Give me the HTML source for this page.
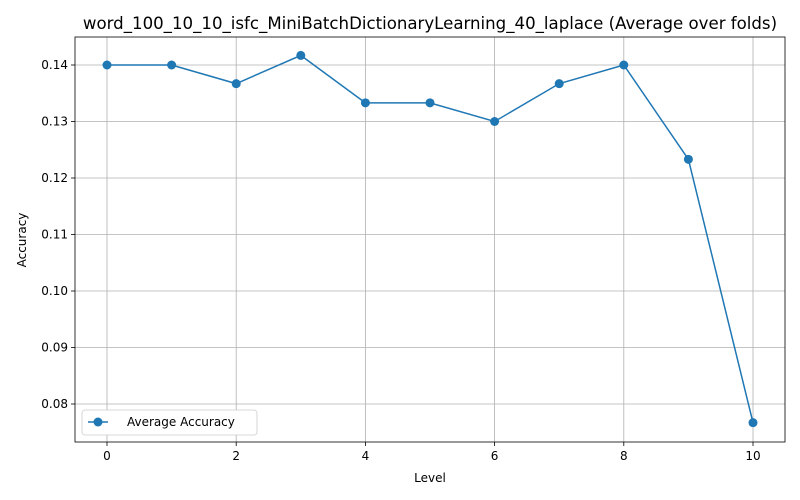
<!DOCTYPE html>
<html><head><meta charset="utf-8"><style>
html,body{margin:0;padding:0;background:#fff;}
svg{display:block;font-family:"DejaVu Sans","Liberation Sans",sans-serif;}
</style></head><body>
<svg id="chart" width="800" height="500"></svg>
<script>
const levels=[0,1,2,3,4,5,6,7,8,9,10];
const accuracy=[0.14,0.14,0.1367,0.1417,0.1333,0.1333,0.13,0.1367,0.14,0.1233,0.0767];
const xTicks=[0,2,4,6,8,10];
const yTicks=[0.08,0.09,0.10,0.11,0.12,0.13,0.14];
const yTickLabels=["0.08","0.09","0.10","0.11","0.12","0.13","0.14"];

const L=75,R=785,T=37,B=442;
const x=v=>107+(v-0)*(753-107)/10;
const y=v=>65+(0.14-v)*(404-65)/0.06;
const svg=document.getElementById('chart');
const NS='http://www.w3.org/2000/svg';
function mk(tag,attrs,parent){const e=document.createElementNS(NS,tag);for(const k in attrs)e.setAttribute(k,attrs[k]);(parent||svg).appendChild(e);return e;}

xTicks.forEach(t=>{
  const g=mk('line',{x1:x(t),x2:x(t),y1:T,y2:B,stroke:'#b0b0b0','stroke-width':0.8});
  
  
  const tk=mk('line',{x1:x(t),x2:x(t),y1:B,y2:B+4,stroke:'#000','stroke-width':0.8});
  
  
  const lb=mk('text',{x:x(t),y:B+18,'text-anchor':'middle','font-size':12,fill:'#000'});
  lb.textContent=t;
  
  
});
yTicks.forEach((t,i)=>{
  const g=mk('line',{x1:L,x2:R,y1:y(t),y2:y(t),stroke:'#b0b0b0','stroke-width':0.8});
  
  
  const tk=mk('line',{x1:L-4,x2:L,y1:y(t),y2:y(t),stroke:'#000','stroke-width':0.8});
  
  
  const lb=mk('text',{x:L-7,y:y(t)+4,'text-anchor':'end','font-size':12,fill:'#000'});
  lb.textContent=yTickLabels[i];
  
  
});
const fr=mk('rect',{x:L,y:T,width:R-L,height:B-T,fill:'none',stroke:'#000','stroke-width':0.8});


const pts=levels.map((l,i)=>x(l)+','+y(accuracy[i])).join(' ');
const pl=mk('polyline',{points:pts,fill:'none',stroke:'#1f77b4','stroke-width':1.5});


levels.forEach((l,i)=>{
  const c=mk('circle',{cx:x(l),cy:y(accuracy[i]),r:4.5,fill:'#1f77b4'});
  
  
});
const tt=mk('text',{x:430,y:29,'text-anchor':'middle','font-size':16.6,fill:'#000'});
tt.textContent='word_100_10_10_isfc_MiniBatchDictionaryLearning_40_laplace (Average over folds)';


const xt=mk('text',{x:430,y:482,'text-anchor':'middle','font-size':12,fill:'#000'});
xt.textContent='Level';


const yt=mk('text',{x:26,y:240,'text-anchor':'middle','font-size':12,fill:'#000',transform:'rotate(-90 26 240)'});
yt.textContent='Accuracy';


const lg=mk('g',{});


mk('rect',{x:82,y:410,width:175,height:25,rx:3,fill:'#fff',stroke:'#ccc','stroke-width':0.8},lg);
mk('line',{x1:88,x2:108,y1:422,y2:422,stroke:'#1f77b4','stroke-width':1.5},lg);
mk('circle',{cx:98,cy:422,r:4.5,fill:'#1f77b4'},lg);
const lt=mk('text',{x:127,y:426,'font-size':12,fill:'#000'},lg);
lt.textContent='Average Accuracy';


</script>
</body></html>
